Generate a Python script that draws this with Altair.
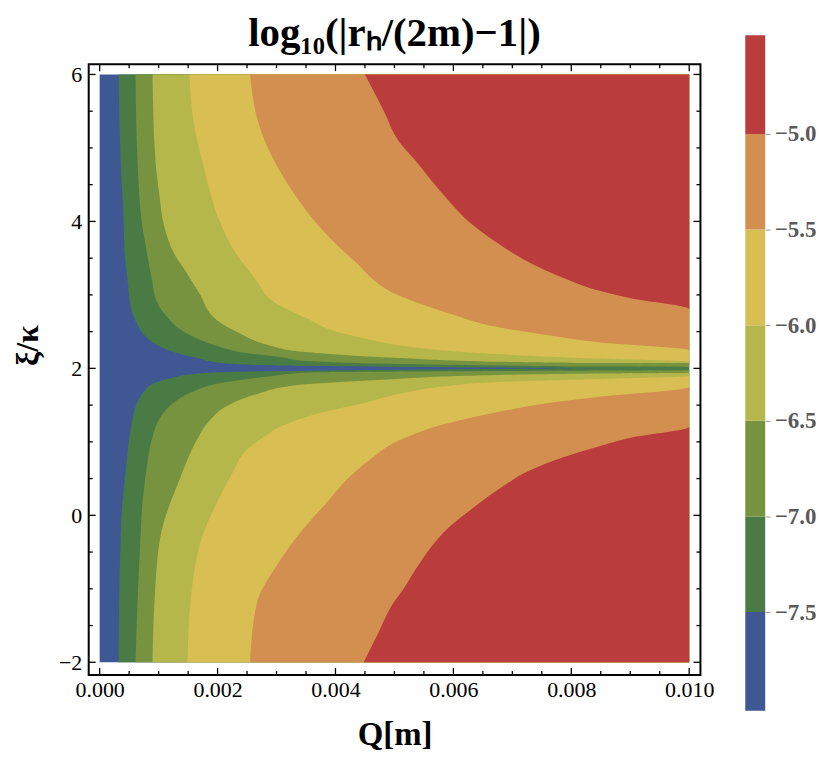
import altair as alt
import pandas as pd

# ---------------- data ----------------
Q_MAX = 0.01
XI_LO, XI_HI = -2.0, 6.0
X_DOMAIN = [-0.000186, 0.010191]
Y_DOMAIN = [-2.172, 6.140]

X_MAJOR = [0.0, 0.002, 0.004, 0.006, 0.008, 0.010]
X_MINOR = [0.0005, 0.001, 0.0015, 0.0025, 0.003, 0.0035, 0.0045, 0.005, 0.0055,
           0.0065, 0.007, 0.0075, 0.0085, 0.009, 0.0095]
Y_MAJOR = [-2.0, 0.0, 2.0, 4.0, 6.0]
Y_MINOR = [-1.5, -1.0, -0.5, 0.5, 1.0, 1.5, 2.5, 3.0, 3.5, 4.5, 5.0, 5.5]

LEVELS = [-7.5, -7.0, -6.5, -6.0, -5.5, -5.0]
COLORBAR_RANGE = [-8.016, -4.484]
BAND_COLORS = ["#3f5893", "#4a7b45", "#77933f", "#b5b74a", "#d9be53", "#d38f4f", "#ba3c3c"]

# contour boundaries: xi/kappa values and the Q where each level is crossed
B75_XI = [-2.0, -0.287, 0.377, 0.513, 0.824, 1.096, 1.326, 1.557, 1.692, 1.801, 1.868, 1.923,
          1.950, 1.967, 1.980, 1.991, 2.000, 2.011, 2.020, 2.031, 2.045, 2.072, 2.140, 2.221,
          2.316, 2.452, 2.614, 2.790, 3.238, 3.604, 3.916, 4.824, 6.0]
B75_Q = [0.00032, 0.000355, 0.00041, 0.00043, 0.00047, 0.00051, 0.00056, 0.00065, 0.00076,
         0.00093, 0.00122, 0.00161, 0.00216, 0.00352, 0.00507, 0.00676, 0.00845, 0.00676,
         0.00507, 0.00355, 0.00262, 0.00206, 0.00166, 0.00127, 0.00098, 0.00076, 0.00063,
         0.00054, 0.00047, 0.00042, 0.00041, 0.000355, 0.00032]

B70_XI = [-2.0, -1.182, -0.287, 0.174, 0.621, 1.014, 1.231, 1.394, 1.543, 1.679, 1.801, 1.889,
          1.943, 1.963, 1.977, 2.018, 2.024, 2.038, 2.058, 2.099, 2.153, 2.207, 2.289, 2.384,
          2.519, 2.696, 2.885, 3.238, 3.604, 3.916, 4.824, 6.0]
B70_Q = [0.000608, 0.000642, 0.000693, 0.000727, 0.000794, 0.000879, 0.000963, 0.00108,
         0.00127, 0.00157, 0.00206, 0.00287, 0.00355, 0.00676, 0.0100, 0.0100, 0.00845,
         0.00676, 0.00507, 0.00355, 0.00308, 0.00250, 0.00206, 0.00172, 0.00139, 0.00115,
         0.00098, 0.000879, 0.000794, 0.000727, 0.000642, 0.000608]

B65_XI = [-2.0, -1.182, -0.287, 0.174, 0.377, 0.621, 1.014, 1.285, 1.489, 1.652, 1.774, 1.841,
          1.909, 1.929, 1.940, 2.068, 2.072, 2.089, 2.140, 2.225, 2.316, 2.479, 2.655, 3.021,
          3.333, 3.536, 3.916, 4.377, 4.824, 6.0]
B65_Q = [0.000896, 0.00093, 0.00103, 0.00120, 0.00130, 0.00142, 0.00164, 0.00186, 0.00216,
         0.00267, 0.00338, 0.00473, 0.00676, 0.00845, 0.0100, 0.0100, 0.00845, 0.00676,
         0.00507, 0.00346, 0.00287, 0.00237, 0.00199, 0.00169, 0.00145, 0.00128, 0.00110,
         0.00101, 0.000946, 0.000896]

B60_XI = [-2.0, -1.182, -0.735, -0.287, 0.174, 0.621, 0.852, 1.068, 1.204, 1.394, 1.529, 1.665,
          1.760, 1.814, 1.855, 1.896, 2.085, 2.133, 2.194, 2.316, 2.411, 2.519, 2.655, 2.885,
          3.238, 3.604, 4.011, 4.377, 4.824, 5.272, 6.0]
B60_Q = [0.00149, 0.00154, 0.00161, 0.00174, 0.00199, 0.00228, 0.00245, 0.00279, 0.00306,
         0.00374, 0.00448, 0.00515, 0.00592, 0.00676, 0.00845, 0.0100, 0.0100, 0.00845,
         0.00676, 0.00507, 0.00448, 0.00394, 0.00358, 0.00299, 0.00262, 0.00228, 0.00203,
         0.00188, 0.00174, 0.00161, 0.00152]

B55_XI = [-2.0, -1.182, -0.735, -0.287, 0.174, 0.485, 0.757, 1.028, 1.258, 1.407, 1.529, 1.611,
          1.746, 2.248, 2.357, 2.452, 2.560, 2.750, 2.994, 3.468, 3.916, 4.377, 4.824, 5.272, 6.0]
B55_Q = [0.00255, 0.00267, 0.00296, 0.00335, 0.00385, 0.00419, 0.00458, 0.00510, 0.00592,
         0.00676, 0.00761, 0.00845, 0.0100, 0.0100, 0.00845, 0.00761, 0.00676, 0.00592,
         0.00507, 0.00431, 0.00374, 0.00330, 0.00296, 0.00272, 0.00255]

B50_XI = [-2.0, -1.643, -1.182, -1.006, -0.735, -0.423, -0.165, 0.079, 0.350, 0.621, 0.797,
          0.933, 1.055, 1.204, 2.804, 2.953, 3.062, 3.224, 3.428, 3.699, 3.970, 4.282, 4.553,
          4.824, 5.096, 5.502, 6.0]
B50_Q = [0.00448, 0.00470, 0.00499, 0.00515, 0.00536, 0.00563, 0.00592, 0.00630, 0.00676,
         0.00732, 0.00789, 0.00845, 0.00901, 0.0100, 0.0100, 0.00901, 0.00845, 0.00789,
         0.00732, 0.00676, 0.00630, 0.00592, 0.00563, 0.00536, 0.00507, 0.00482, 0.00450]

BOUNDARIES = [(B75_XI, B75_Q), (B70_XI, B70_Q), (B65_XI, B65_Q),
              (B60_XI, B60_Q), (B55_XI, B55_Q), (B50_XI, B50_Q)]

# ---------------- styling ----------------
SERIF = "Liberation Serif"
W, H = 614, 613
MAJ, MIN = 7, 4

xs = alt.Scale(domain=X_DOMAIN, nice=False, zero=False)
ys = alt.Scale(domain=Y_DOMAIN, nice=False, zero=False)
xaxis = alt.Axis(values=X_MAJOR, format=".3f", ticks=False, domain=False, grid=False,
                 labelFont=SERIF, labelFontSize=22, labelColor="black", labelPadding=5,
                 title="Q[m]", titleFont=SERIF, titleFontSize=33, titleFontWeight="bold",
                 titleColor="black", titlePadding=18)
yaxis = alt.Axis(values=Y_MAJOR, format="d", ticks=False, domain=False, grid=False,
                 labelFont=SERIF, labelFontSize=22, labelColor="black", labelPadding=7,
                 title="ξ/κ", titleFont=SERIF, titleFontSize=32, titleFontWeight="bold",
                 titleColor="black", titlePadding=14, titleY=282)


def X(field):
    return alt.X(field, type="quantitative", scale=xs, axis=xaxis)


def Y(field):
    return alt.Y(field, type="quantitative", scale=ys, axis=yaxis)


bg_df = pd.DataFrame({"q0": [0.0], "q1": [Q_MAX], "y0": [XI_LO], "y1": [XI_HI]})
layers = [alt.Chart(bg_df).mark_rect(color=BAND_COLORS[0]).encode(
    x=X("q0"), x2="q1", y=Y("y0"), y2="y1")]

for i, (bxi, bq) in enumerate(BOUNDARIES):
    df = pd.DataFrame({"xi": bxi, "q": bq})
    df["qmax"] = Q_MAX
    layers.append(alt.Chart(df).mark_area(orient="horizontal", interpolate="monotone",
                                          color=BAND_COLORS[i + 1]).encode(
        y=Y("xi"), x=X("q"), x2="qmax"))

# inward frame ticks
for vals, ln in [(X_MAJOR, MAJ), (X_MINOR, MIN)]:
    tdf = pd.DataFrame({"t": vals})
    layers.append(alt.Chart(tdf).mark_rule(color="black", strokeWidth=1.3).encode(
        x=X("t"), y=alt.value(H), y2=alt.value(H - ln)))
    layers.append(alt.Chart(tdf).mark_rule(color="black", strokeWidth=1.3).encode(
        x=X("t"), y=alt.value(0), y2=alt.value(ln)))
for vals, ln in [(Y_MAJOR, MAJ), (Y_MINOR, MIN)]:
    tdf = pd.DataFrame({"t": vals})
    layers.append(alt.Chart(tdf).mark_rule(color="black", strokeWidth=1.3).encode(
        y=Y("t"), x=alt.value(0), x2=alt.value(ln)))
    layers.append(alt.Chart(tdf).mark_rule(color="black", strokeWidth=1.3).encode(
        y=Y("t"), x=alt.value(W), x2=alt.value(W - ln)))

main = alt.layer(*layers)

# colour bar
cb_df = pd.DataFrame({
    "lo": [COLORBAR_RANGE[0]] + LEVELS,
    "hi": LEVELS + [COLORBAR_RANGE[1]],
    "col": BAND_COLORS,
})
cb_df["c0"] = 0.0
cb_df["c1"] = 1.0
colorbar = alt.Chart(cb_df).mark_rect().encode(
    x=alt.X("c0:Q", scale=alt.Scale(domain=[0, 1], range=[659, 679]), axis=None),
    x2="c1",
    y=alt.Y("lo:Q", scale=alt.Scale(domain=COLORBAR_RANGE, range=[649, -29], nice=False, zero=False),
            axis=alt.Axis(orient="right", offset=65, values=LEVELS, format=".1f", domain=False,
                          grid=False, ticks=True, tickSize=5, tickColor="#999999", tickWidth=1,
                          labelFont=SERIF, labelFontSize=23, labelFontWeight="bold",
                          labelColor="#5a5a5a", labelPadding=4, title=None)),
    y2="hi",
    color=alt.Color("col:N", scale=None, legend=None),
)

chart = alt.layer(main, colorbar).resolve_scale(x="independent", y="independent").properties(
    width=W, height=H,
    title=alt.Title("log₁₀(|rₕ/(2m)−1|)", font=SERIF, fontSize=41, fontWeight="bold",
                    color="black", anchor="middle", frame="group", offset=0, dy=20),
    autosize=alt.AutoSizeParams(type="none"),
    padding={"left": 81, "top": 55, "right": 122, "bottom": 81},
).configure_view(stroke="black", strokeWidth=2)

chart.save("out.html", embed_options={"renderer": "svg", "actions": False})
